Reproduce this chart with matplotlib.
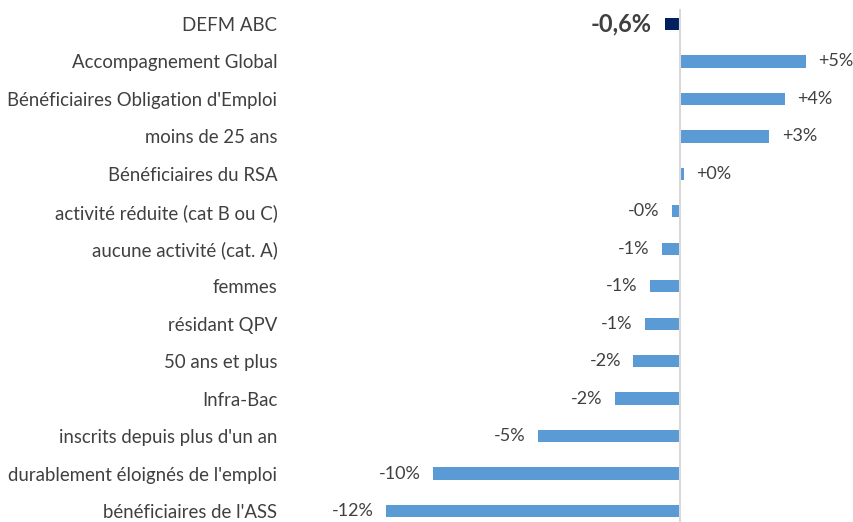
import matplotlib
matplotlib.use("Agg")
import matplotlib.pyplot as plt

categories = [
    "DEFM ABC",
    "Accompagnement Global",
    "Bénéficiaires Obligation d'Emploi",
    "moins de 25 ans",
    "Bénéficiaires du RSA",
    "activité réduite (cat B ou C)",
    "aucune activité (cat. A)",
    "femmes",
    "résidant QPV",
    "50 ans et plus",
    "Infra-Bac",
    "inscrits depuis plus d'un an",
    "durablement éloignés de l'emploi",
    "bénéficiaires de l'ASS",
]
values = [-0.6, 5.13, 4.29, 3.64, 0.15, -0.33, -0.75, -1.24, -1.44, -1.9,
          -2.65, -5.81, -10.07, -12.01]
value_labels = ["-0,6%", "+5%", "+4%", "+3%", "+0%", "-0%", "-1%", "-1%", "-1%",
                "-2%", "-2%", "-5%", "-10%", "-12%"]

plt.rcParams['font.family'] = ['Lato', 'DejaVu Sans']
text_color = "#404040"

fig = plt.figure(figsize=(8.54, 5.22), dpi=100)
W, H = 854, 522
ax_left, ax_right = 290, 850
ax_top, ax_bottom = 5, 522
ax = fig.add_axes([ax_left / W, 1 - ax_bottom / H, (ax_right - ax_left) / W,
                   (ax_bottom - ax_top) / H])

px_per_unit = 24.5
zero_px = 680
ax.set_xlim(-(zero_px - ax_left) / px_per_unit, (ax_right - zero_px) / px_per_unit)
row = 37.46
ax.set_ylim(13 + (522 - 511) / row, -(24 - 5) / row)

y = list(range(len(categories)))
colors = ["#002060"] + ["#5B9BD5"] * (len(categories) - 1)
ax.barh(y, values, height=0.33, color=colors, zorder=2)

ax.axvline(0, color="#D9D9D9", lw=1.5, zorder=3, ymin=0, ymax=1 - (10 - 5) / (ax_bottom - ax_top))

for i, (v, lab) in enumerate(zip(values, value_labels)):
    if i == 0:
        ax.annotate(lab, (v, i), xytext=(-10, 0), textcoords="offset points",
                    ha="right", va="center", fontsize=17, fontweight="bold",
                    color=text_color)
    elif v >= 0:
        ax.annotate(lab, (v, i), xytext=(9, 0), textcoords="offset points",
                    ha="left", va="center", fontsize=13, color=text_color)
    else:
        ax.annotate(lab, (v, i), xytext=(-9, 0), textcoords="offset points",
                    ha="right", va="center", fontsize=13, color=text_color)

ax.set_yticks(y)
ax.set_yticklabels(categories, fontsize=13.4, color=text_color)
ax.tick_params(axis="y", length=0, pad=9)
ax.set_xticks([])
for s in ax.spines.values():
    s.set_visible(False)

fig.savefig("out.png", dpi=100)
